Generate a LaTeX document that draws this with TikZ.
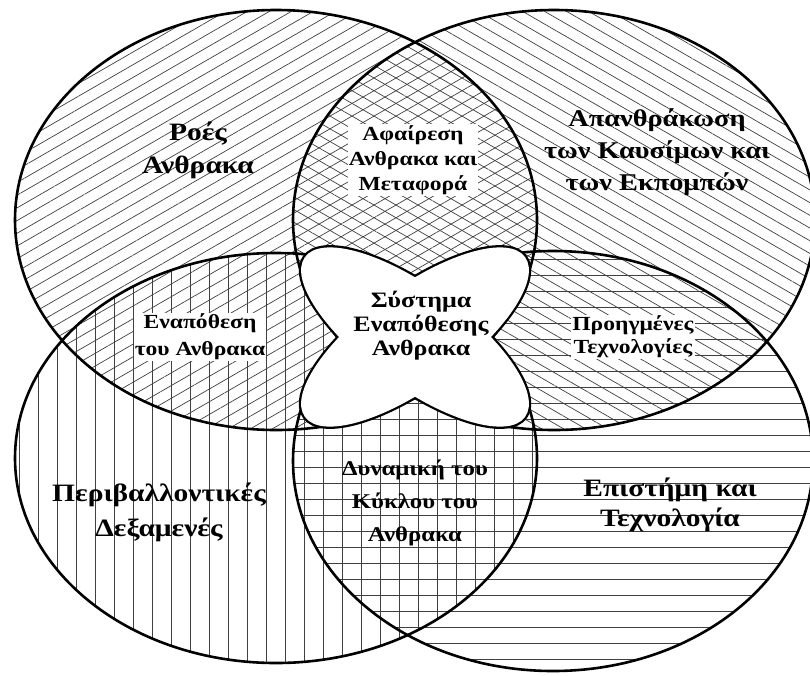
\documentclass[tikz,border=0pt]{standalone}
\usepackage{fontspec}
\setmainfont{Liberation Serif}[FakeStretch=1.18]
\usetikzlibrary{patterns.meta}
\tikzset{
  rim/.style={draw=black,line width=2.6pt},
  lab/.style n args={2}{align=center,font=\bfseries\fontsize{#1}{#2}\selectfont,inner sep=1pt},
}
\begin{document}
\begin{tikzpicture}[x=1pt,y=-1pt]
\useasboundingbox (0,0) rectangle (810,675);
\fill[white] (0,0) rectangle (810,675);
% hatch fills
\fill[pattern={Lines[angle=30,distance=11pt,line width=0.7pt]},pattern color=black!75] (276,220) ellipse [x radius=261pt,y radius=210pt];
\fill[pattern={Lines[angle=-30,distance=11pt,line width=0.7pt]},pattern color=black!75] (554,220) ellipse [x radius=261pt,y radius=210pt];
\fill[pattern={Lines[angle=90,distance=19pt,line width=0.7pt]},pattern color=black!75] (276,458) ellipse [x radius=261pt,y radius=205pt];
\fill[pattern={Lines[angle=0,distance=16pt,line width=0.7pt]},pattern color=black!75] (553,461) ellipse [x radius=260pt,y radius=210pt];
% outlines
\draw[rim] (276,220) ellipse [x radius=261pt,y radius=210pt];
\draw[rim] (554,220) ellipse [x radius=261pt,y radius=210pt];
\draw[rim] (276,458) ellipse [x radius=261pt,y radius=205pt];
\draw[rim] (553,461) ellipse [x radius=260pt,y radius=210pt];
% central flower
\fill[white] (415,337) circle [x radius=136pt,y radius=50pt,rotate=36];
\fill[white] (415,337) circle [x radius=136pt,y radius=50pt,rotate=-36];
\draw[black,line width=4.6pt] (415,337) circle [x radius=136pt,y radius=50pt,rotate=36];
\draw[black,line width=4.6pt] (415,337) circle [x radius=136pt,y radius=50pt,rotate=-36];
\fill[white] (415,337) circle [x radius=136pt,y radius=50pt,rotate=36];
\fill[white] (415,337) circle [x radius=136pt,y radius=50pt,rotate=-36];
% labels
\node[lab={25}{33}] (roes) at (198,150) {Ροές\\Ανθρακα};
\node[lab={20}{25},fill=white] (afair) at (413,160) {Αφαίρεση\\Ανθρακα και\\Μεταφορά};
\node[lab={24}{32}] (apanth) at (657,152) {Απανθράκωση\\των Καυσίμων και\\των Εκπομπών};
\node[lab={20}{27},fill=white] (enap) at (200,337) {Εναπόθεση\\του Ανθρακα};
\node[lab={22}{24}] (syst) at (421,326) {Σύστημα\\Εναπόθεσης\\Ανθρακα};
\node[lab={20}{23},fill=white] (proig) at (633,337) {Προηγμένες\\Τεχνολογίες};
\node[lab={25}{35}] (perib) at (159,512) {Περιβαλλοντικές\\Δεξαμενές};
\node[lab={21}{33}] (dyn) at (415,503) {Δυναμική του\\Κύκλου του\\Ανθρακα};
\node[lab={25}{30}] (epist) at (670,505) {Επιστήμη και\\Τεχνολογία};
\end{tikzpicture}
\end{document}
